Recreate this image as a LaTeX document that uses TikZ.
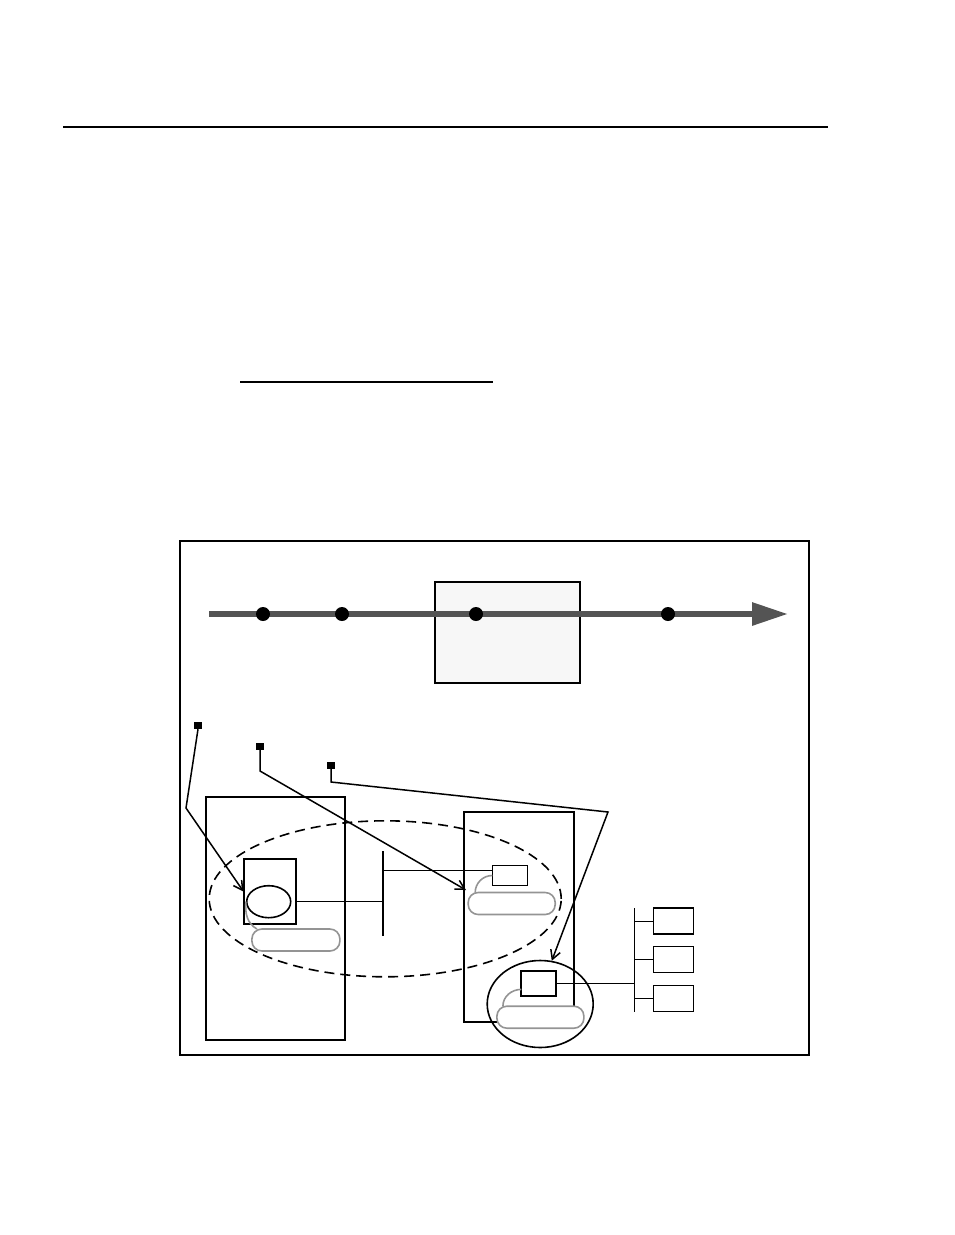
\documentclass[tikz,border=0pt]{standalone}
\usepackage{tikz}
\usetikzlibrary{positioning,shapes,arrows.meta}

\begin{document}
\begin{tikzpicture}[x=1pt, y=-1pt,
    boite/.style={draw, inner sep=0pt, outer sep=0pt, line width=1.6pt},
    bulle/.style={draw=black!42, fill=white, rounded corners=10pt, line width=1.6pt, inner sep=0pt, outer sep=0pt},
    marque/.style={fill=black, inner sep=0pt, minimum width=8pt, minimum height=7pt},
    evt/.style={circle, fill=black, inner sep=0pt, minimum size=14pt},
    renvoi/.style={line width=1.5pt, -{Straight Barb[length=9pt, width=10pt]}},
    fil/.style={line width=1.2pt},
    lien/.style={draw=black!42, line width=1.6pt}]

        \useasboundingbox (0,0) rectangle (954,1235);

        % Filets de la page
        \coordinate (r1) at (63,127);
        \coordinate (r2) at (828,127);
        \draw[line width=2.4pt] (r1) -- (r2);
        \coordinate (s1) at (240,382);
        \coordinate (s2) at (493,382);
        \draw[line width=1.3pt] (s1) -- (s2);

        % Cadre
        \node[boite, line width=2pt, minimum width=629pt, minimum height=514pt] (cadre) at (494.5,798) {};

        % Axe du temps
        \node[boite, line width=1.8pt, fill=black!3, minimum width=145pt, minimum height=101pt] (fenetre) at (507.5,632.5) {};
        \coordinate (t0) at (209,614);
        \coordinate (t1) at (788,614);
        \draw[line width=6pt, black!67, -{Triangle[length=36pt, width=22pt]}] (t0) -- (t1);
        \foreach \x/\n in {263/e1, 342/e2, 476/e3, 668/e4}
            \node[evt] (\n) at (\x,614) {};

        % Machines
        \node[boite, minimum width=139pt, minimum height=243pt] (hoteA) at (275.4,918.5) {};
        \node[boite, minimum width=110pt, minimum height=210pt] (hoteB) at (519.2,916.7) {};

        % Groupe (pointille)
        \node[draw, ellipse, dash pattern=on 10pt off 6pt, line width=1.6pt, inner sep=0pt, minimum width=352pt, minimum height=156pt] (groupe) at (385.2,898.8) {};

        % Module A
        \node[boite, line width=2pt, minimum width=52pt, minimum height=65pt] (modA) at (269.5,891.5) {};
        \node[draw, ellipse, line width=1.6pt, inner sep=0pt, minimum width=44pt, minimum height=32pt] (celA) at (268.7,901.7) {};
        \node[bulle, minimum width=88pt, minimum height=22pt] (bulleA) at (295.9,940) {};
        \draw[lien] (celA.west) to[out=-95, in=150] ([xshift=5pt]bulleA.north west);

        % Module B
        \node[boite, minimum width=35pt, minimum height=20pt] (modB) at (509.8,875.5) {};
        \node[bulle, minimum width=87pt, minimum height=22pt] (bulleB) at (511.7,903.5) {};
        \draw[lien] (modB.west) to[out=180, in=90] ([xshift=7pt]bulleB.north west);

        % Module C (entoure)
        \node[draw, ellipse, line width=1.6pt, inner sep=0pt, minimum width=106pt, minimum height=87pt] (domaine) at (540.2,1004) {};
        \node[bulle, minimum width=87pt, minimum height=22pt] (bulleC) at (540.4,1017.2) {};
        \node[boite, line width=2pt, minimum width=35pt, minimum height=25pt] (modC) at (538.8,983.4) {};
        \draw[lien] ([yshift=-6pt]modC.west) to[out=180, in=90] ([xshift=6pt]bulleC.north west);

        % Bus
        \coordinate (busA1) at (383,851);
        \coordinate (busA2) at (383,936);
        \draw[line width=2.2pt] (busA1) -- (busA2);
        \draw[fil] (modA.east |- celA) -- (busA1 |- celA);
        \draw[fil] (modB.165) -- (busA1 |- modB.165);

        \coordinate (busB1) at (634.3,908.3);
        \coordinate (busB2) at (634.3,1011.7);
        \draw[line width=1.5pt] (busB1) -- (busB2);
        \draw[fil] (modC.east) -- (busB1 |- modC.east);
        \foreach \y/\n in {921.2/p1, 959.5/p2, 998.3/p3} {
            \node[boite, minimum width=40pt, minimum height=26pt] (\n) at (673.3,\y) {};
            \draw[fil] (\n.west) -- (busB1 |- \n.west);
        }

        % Renvois
        \node[marque] (m1) at (198,725.5) {};
        \node[marque] (m2) at (260,746) {};
        \node[marque] (m3) at (331,765) {};
        \coordinate (c1) at (186,808);
        \coordinate (c2) at (260,771);
        \coordinate (c3) at (331,782);
        \coordinate (c4) at (608,812);
        \coordinate (f2) at (466,890);
        \draw[renvoi] (m1.south) -- (c1) -- (modA.west);
        \draw[renvoi] (m2.south) -- (c2) -- (f2);
        \draw[renvoi] (m3.south) -- (c3) -- (c4) -- (domaine.75);
    \end{tikzpicture}
\end{document}
